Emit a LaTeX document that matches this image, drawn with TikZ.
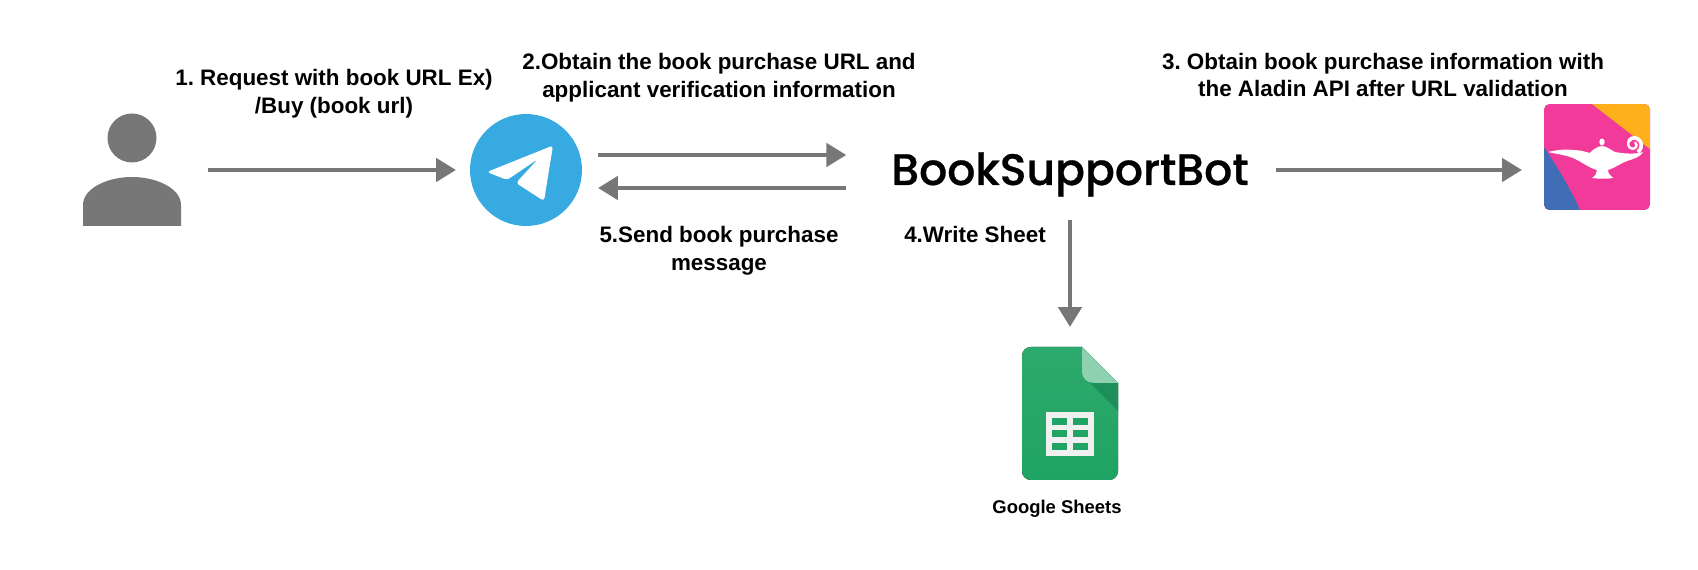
\documentclass[tikz,border=0pt]{standalone}
\usepackage{fontspec}
\setmainfont{Liberation Sans}
\newfontfamily\botfont{Poppins Medium}
\usetikzlibrary{arrows.meta, positioning}
\definecolor{flowgray}{HTML}{777777}
\definecolor{tgblue}{HTML}{37AAE1}
\definecolor{alpink}{HTML}{F23A9A}
\definecolor{alorange}{HTML}{FDB01B}
\definecolor{alblue}{HTML}{416DB6}
\definecolor{shgreen}{HTML}{1FA463}
\definecolor{shlight}{HTML}{8ED1B1}
\definecolor{shdark}{HTML}{1E8E5A}
\tikzset{
  flow/.style={->, draw=flowgray, line width=2.7pt},
  steptext/.style={align=center, inner sep=0pt, font=\bfseries\frenchspacing\fontsize{12.75}{15.9}\selectfont},
  iconbox/.style={inner sep=0pt, outer sep=0pt}
}

\begin{document}
\begin{tikzpicture}[x=0.02cm, y=-0.02cm, >={Triangle[length=11.3pt, width=13pt]}]
  \useasboundingbox (0,0) rectangle (1698,570);
  % person
  \node[iconbox, minimum width=1.96cm, minimum height=1cm] (person) at (132,170) {};
  \fill[flowgray] (132,138) ellipse [x radius=24.5, y radius=24.5];
  \fill[flowgray] (83,226) -- (83,205) .. controls (83,188) and (108,177) .. (132,177) .. controls (156,177) and (181,188) .. (181,205) -- (181,226) -- cycle;
  % telegram
  \node[iconbox, circle, fill=tgblue, minimum size=2.24cm] (telegram) at (526,170) {};
  \fill[white, rounded corners=1.8pt] (553,145.5) -- (487,172) -- (507,180) -- (538,159) -- (516,183) -- (544,201) -- cycle;
  % bot
  \node[iconbox, minimum width=7.14cm, minimum height=1.2cm, text height=0.8cm, text depth=0.2cm, font=\botfont\fontsize{25.1}{28}\selectfont] (bot) at (1070,170) {\addfontfeatures{FakeBold=0.6}BookSupportBot};
  % aladin
  \node[iconbox, minimum size=2.12cm, fill=alpink, rounded corners=3pt] (aladin) at (1597,157) {};
  \begin{scope}
    \clip[rounded corners=3pt] (aladin.north west) rectangle (aladin.south east);
    \fill[alorange] (1592,104) -- (1650,104) -- (1650,149) -- cycle;
    \fill[alblue] (1544,147) .. controls (1558,168) and (1570,188) .. (1580,210) -- (1544,210) -- cycle;
  \end{scope}
  \fill[white] (1548,152) .. controls (1556,150) and (1566,149) .. (1573,150) .. controls (1580,150) and (1586,152) .. (1590,153) .. controls (1592,150) and (1598,146) .. (1602,146) .. controls (1606,146) and (1611,150) .. (1615,152) .. controls (1620,153) and (1634,155) .. (1643,152) .. controls (1641,157) and (1633,159) .. (1627,161) .. controls (1621,163) and (1615,168) .. (1608,170) .. controls (1608,174) and (1611,176) .. (1613,178) .. controls (1607,179) and (1599,179) .. (1592,178) .. controls (1595,176) and (1597,173) .. (1597,170) .. controls (1589,168) and (1582,162) .. (1573,158) .. controls (1566,155) and (1556,154) .. cycle;
  \fill[white] (1602,142) ellipse [x radius=2.7, y radius=3.5];
  \draw[white, line width=1.4pt] plot[domain=0:480, samples=70, smooth] ({1633.5+(8.5-0.0136*\x)*cos(60-\x)},{144.5+(8.5-0.0136*\x)*sin(60-\x)});
  \draw[white, line width=2.1pt] plot[domain=0:200, samples=30, smooth] ({1633.5+(8.5-0.0136*\x)*cos(60-\x)},{144.5+(8.5-0.0136*\x)*sin(60-\x)});
  % sheets
  \node[iconbox, minimum width=1.92cm, minimum height=2.66cm] (sheets) at (1070,413.5) {};
  \fill[top color=shgreen!94!white, bottom color=shgreen, rounded corners=5pt] (1082,347) [sharp corners] -- (1118,383) [rounded corners=5pt] -- (1118,480) -- (1022,480) -- (1022,347) [sharp corners] -- cycle;
  \fill[shdark] (1090,383) -- (1118,383) -- (1118,411) -- cycle;
  \fill[shlight] (1082,347) -- (1118,383) -- (1094,383) .. controls (1087,383) and (1082,378) .. (1082,372) -- cycle;
  \fill[white!94!black] (1046,412) rectangle (1094,456);
  \foreach \ypos in {418,430,443}
    \foreach \xpos in {1052,1073}
      \fill[shgreen] (\xpos,\ypos) rectangle ++(15,7.5);
  \node[iconbox, font=\bfseries\fontsize{10.5}{12}\selectfont] (sheetsname) at (1057,509) {Google Sheets};
  % labels
  \node[steptext] (req) at (334,94) {1. Request with book URL Ex)\\/Buy (book url)};
  \node[steptext] (obtain) at (719,78) {2.Obtain the book purchase URL and\\applicant verification information};
  \node[steptext] (aladinapi) at (1383,75) {3. Obtain book purchase information with\\the Aladin API after URL validation};
  \node[steptext] (writesheet) at (975,234) {4.Write Sheet};
  \node[steptext] (sendmsg) at (719,250.5) {5.Send book purchase\\message};
  % arrows
  \draw[flow, shorten <=0.54cm, shorten >=0.28cm] (person.east) -- (telegram.west);
  \draw[flow, shorten <=0.32cm, shorten >=0.9cm] ([yshift=0.3cm]telegram.east) -- ([yshift=0.3cm]bot.west);
  \draw[flow, shorten <=0.9cm, shorten >=0.32cm] ([yshift=-0.36cm]bot.west) -- ([yshift=-0.36cm]telegram.east);
  \draw[flow, shorten <=0.54cm, shorten >=0.44cm] ([yshift=-0.26cm]aladin.west -| bot.east) -- ([yshift=-0.26cm]aladin.west);
  \draw[flow, shorten <=0.4cm, shorten >=0.4cm] (bot.south) -- (sheets.north);
\end{tikzpicture}
\end{document}
